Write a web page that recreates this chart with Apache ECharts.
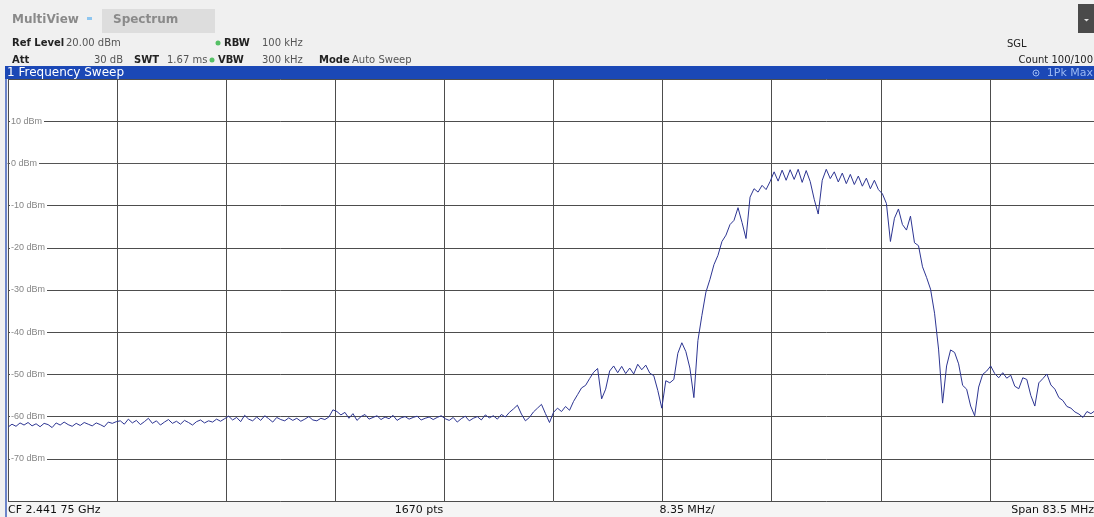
<!DOCTYPE html>
<html><head><meta charset="utf-8">
<script src="https://cdn.jsdelivr.net/npm/echarts@6/dist/echarts.min.js"></script>
<style>html,body{margin:0;padding:0;background:#f0f0f0;overflow:hidden;width:1094px;height:517px}#c{width:1099px;height:517px}</style>
</head><body><div id="c"></div>
<script>
// ---- data ----
const spanMHz = 83.5;          // Span 83.5 MHz, start at CF - span/2
const divMHz = 8.35;           // 8.35 MHz / div
const refLevel = 20;           // Ref Level 20.00 dBm
const bottomLevel = -80;
const levelDiv = 10;
const yTickValues = [10, 0, -10, -20, -30, -40, -50, -60, -70];
const yTickLabels = ['10 dBm', '0 dBm', '-10 dBm', '-20 dBm', '-30 dBm', '-40 dBm', '-50 dBm', '-60 dBm', '-70 dBm'];

// trace levels (dBm), evenly spaced across the span (1Pk Max trace, resampled by eye)
const levelsA = [-62.5,-61.8,-62.3,-61.5,-62.0,-61.4,-62.2,-61.7,-62.4,-61.6,-61.9,-62.6,-61.5,-62.0,-61.3,-61.9,-62.3,-61.6,-62.1,-61.4,-61.8,-62.2,-61.5,-61.9,-62.4,-61.3,-61.6,-61.2];
const levelsB = [-61.0,-61.8,-60.6,-61.5,-60.9,-61.9,-61.2,-60.4,-61.6,-61.0,-62.0,-61.3,-60.7,-61.6,-61.1,-61.8,-60.9,-61.4,-62.0,-61.2,-60.8,-61.5,-61.0,-61.3,-60.6,-61.1,-60.5];
const levelsC = [-59.9,-60.8,-60.2,-61.2,-59.7,-60.6,-61.0,-60.1,-60.9,-59.8,-60.5,-61.3,-60.2,-60.7,-61.0,-60.3,-60.9,-60.4,-61.1,-60.6,-60.0,-60.8,-61.0,-60.4,-60.7,-60.1,-58.4];
const levelsD = [-58.8,-59.6,-59.0,-60.4,-59.3,-60.9,-60.0,-59.5,-60.6,-60.2,-59.8,-60.7,-60.1,-60.5,-59.7,-60.9,-60.3,-60.0,-60.6,-60.2,-59.9,-60.8,-60.4,-60.1,-60.7,-60.2,-59.8,-60.5];
const levelsE = [-60.9,-60.2,-61.3,-60.5,-59.9,-61.0,-60.4,-60.0,-60.8,-59.6,-60.3,-59.8,-60.6,-59.5,-60.1,-59.0,-58.2,-57.3,-59.4,-61.0,-60.2,-58.9,-58.0,-57.1,-59.3,-61.4,-59.0];
const levelsF = [-58.0,-58.8,-57.6,-58.5,-56.4,-54.8,-53.2,-52.6,-51.0,-49.5,-48.6,-55.8,-53.5,-49.2,-48.0,-49.6,-48.1,-49.8,-48.5,-49.9,-47.6,-48.9,-47.8,-49.7,-50.3,-53.8,-58.0];
const levelsG = [-51.5,-52.0,-51.2,-45.0,-42.5,-44.6,-48.5,-55.5,-42.0,-36.0,-30.5,-27.5,-24.0,-21.8,-18.5,-17.0,-14.5,-13.5,-10.5,-14.0,-17.8,-8.0,-6.0,-6.8,-5.2,-6.2,-4.3];
const levelsH = [-2.0,-4.2,-1.6,-4.0,-1.5,-3.8,-1.4,-4.5,-1.7,-4.3,-8.5,-12.0,-4.0,-1.4,-3.6,-2.0,-4.4,-2.3,-4.8,-2.6,-5.0,-3.0,-5.4,-3.5,-6.0,-4.0,-6.2,-7.2];
const levelsI = [-9.5,-18.5,-13.0,-10.8,-14.5,-15.8,-12.5,-18.8,-19.5,-24.5,-27.0,-29.8,-35.5,-44.0,-56.8,-48.0,-44.2,-44.8,-47.5,-52.6,-53.5,-57.5,-59.8,-53.0,-50.0,-49.2,-48.0];
const levelsJ = [-49.8,-50.8,-49.6,-50.9,-50.2,-52.8,-53.4,-50.8,-51.2,-55.0,-57.5,-52.0,-51.0,-49.9,-52.5,-53.5,-55.5,-56.2,-57.6,-58.0,-58.9,-59.4,-60.2,-58.8,-59.3,-58.6,-59.0];

const levels = [].concat(levelsA, levelsB, levelsC, levelsD, levelsE, levelsF, levelsG, levelsH, levelsI, levelsJ);
const traceData = levels.map((v, i) => [i * spanMHz / (levels.length - 1), v]);

// ---- chart ----
const FONT = 'DejaVu Sans';
const chart = echarts.init(document.getElementById('c'), null, {renderer: 'canvas'});

function txt(text, x, y, opt) {
  opt = opt || {};
  return {
    type: 'text', z: 100, silent: true,
    style: {
      text: text, x: x, y: y,
      fill: opt.fill || '#3a3a3a',
      font: (opt.bold ? 'bold ' : '') + (opt.size || 10) + 'px "' + (opt.family || FONT) + '"',
      textAlign: opt.align || 'left',
      textVerticalAlign: 'middle'
    }
  };
}

const graphics = [
  // header tab
  {type: 'rect', z: 90, silent: true, shape: {x: 102, y: 9, width: 113, height: 24}, style: {fill: '#dddddd'}},
  txt('MultiView', 12, 20, {bold: true, size: 12, fill: '#8a8a8a'}),
  {type: 'rect', z: 95, silent: true, shape: {x: 87, y: 17, width: 5, height: 3}, style: {fill: '#8ec6f0'}},
  txt('Spectrum', 113, 20, {bold: true, size: 12, fill: '#8a8a8a'}),
  // row 1
  txt('Ref Level', 12, 43, {bold: true, fill: '#222'}),
  txt('20.00 dBm', 66, 43, {fill: '#555'}),
  {type: 'circle', z: 95, silent: true, shape: {cx: 218, cy: 43, r: 2.5}, style: {fill: '#55c065'}},
  txt('RBW', 224, 43, {bold: true, fill: '#222'}),
  txt('100 kHz', 262, 43, {fill: '#555'}),
  // row 2
  txt('Att', 12, 60, {bold: true, fill: '#222'}),
  txt('30 dB', 123, 60, {fill: '#555', align: 'right'}),
  txt('SWT', 134, 60, {bold: true, fill: '#222'}),
  txt('1.67 ms', 167, 60, {fill: '#555'}),
  {type: 'circle', z: 95, silent: true, shape: {cx: 212, cy: 60, r: 2.5}, style: {fill: '#55c065'}},
  txt('VBW', 218, 60, {bold: true, fill: '#222'}),
  txt('300 kHz', 262, 60, {fill: '#555'}),
  txt('Mode', 319, 60, {bold: true, fill: '#222'}),
  txt('Auto Sweep', 352, 60, {fill: '#555'}),
  // right header
  {type: 'rect', z: 90, silent: true, shape: {x: 1078, y: 4, width: 16, height: 29}, style: {fill: '#4a4a4a'}},
  {type: 'polygon', z: 95, silent: true, shape: {points: [[1084, 19], [1089, 19], [1086.5, 21.5]]}, style: {fill: '#e0e0e0'}},
  txt('SGL', 1007, 44, {fill: '#222'}),
  txt('Count 100/100', 1093, 60, {fill: '#222', align: 'right'}),
  // blue title bar
  {type: 'rect', z: 90, silent: true, shape: {x: 5, y: 66, width: 1089, height: 13}, style: {fill: '#1b48b6'}},
  txt('1 Frequency Sweep', 7, 73, {fill: '#ffffff', size: 12}),
  {type: 'circle', z: 95, silent: true, shape: {cx: 1036, cy: 73, r: 3}, style: {fill: 'none', stroke: '#9ab8f2', lineWidth: 1}},
  {type: 'circle', z: 95, silent: true, shape: {cx: 1036, cy: 73, r: 1}, style: {fill: '#9ab8f2'}},
  txt('1Pk Max', 1093, 73, {fill: '#9ab8f2', size: 11, align: 'right'}),
  // left border
  {type: 'rect', z: 90, silent: true, shape: {x: 5, y: 79, width: 2, height: 438}, style: {fill: '#6c84c8'}},
  // bottom strip
  {type: 'rect', z: 90, silent: true, shape: {x: 7, y: 502, width: 1087, height: 15}, style: {fill: '#f5f5f5'}},
  txt('CF 2.441 75 GHz', 8, 510, {fill: '#111', size: 11}),
  txt('1670 pts', 419, 510, {fill: '#111', size: 11, align: 'center'}),
  txt('8.35 MHz/', 687, 510, {fill: '#111', size: 11, align: 'center'}),
  txt('Span 83.5 MHz', 1094, 510, {fill: '#111', size: 11, align: 'right'})
];

chart.setOption({
  animation: false,
  backgroundColor: '#f0f0f0',
  grid: {left: 8, top: 79, right: 0, bottom: 16, show: true, backgroundColor: '#ffffff', borderWidth: 0, containLabel: false},
  xAxis: {
    type: 'value', min: 0, max: spanMHz, interval: divMHz,
    axisLabel: {show: false}, axisTick: {show: false},
    axisLine: {show: true, lineStyle: {color: '#555', width: 1}},
    splitLine: {show: true, lineStyle: {color: '#4d4d4d', width: 1}}
  },
  yAxis: {
    type: 'value', min: bottomLevel, max: refLevel, interval: levelDiv,
    axisLine: {show: false}, axisTick: {show: false},
    splitLine: {show: true, lineStyle: {color: '#4d4d4d', width: 1}},
    axisLabel: {
      inside: true, margin: 2, color: '#858585', fontSize: 9, fontFamily: 'Liberation Sans',
      backgroundColor: '#ffffff', padding: [0, 2, 0, 1],
      formatter: function (v) { const k = yTickValues.indexOf(v); return k >= 0 ? yTickLabels[k] : ''; }
    }
  },
  series: [{
    type: 'line', data: traceData, symbol: 'none', showSymbol: false, silent: true,
    lineStyle: {color: '#2d3592', width: 1}, z: 5
  }],
  graphic: graphics
});
</script>
</body></html>
